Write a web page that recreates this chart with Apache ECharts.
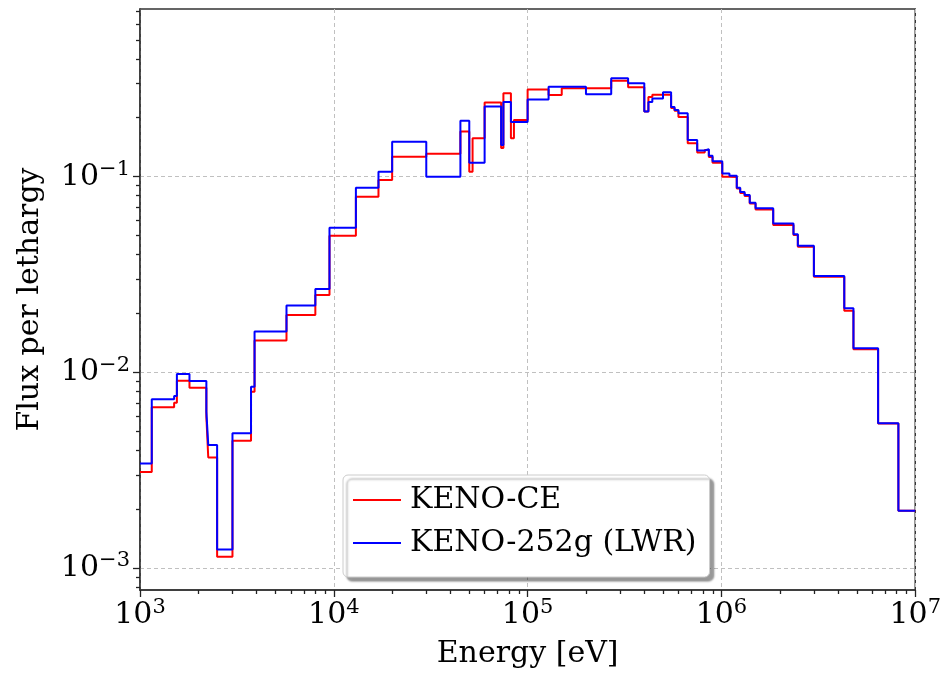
<!DOCTYPE html>
<html><head><meta charset="utf-8">
<script src="https://cdn.jsdelivr.net/npm/echarts@6/dist/echarts.min.js"></script>
<style>html,body{margin:0;padding:0;background:#fff}#c{width:944px;height:674px}</style>
</head><body><div id="c"></div>
<script>
// Group boundaries [eV] (left edges, last value = right edge of last group)
const groupEdges = [1000, 1150, 1500, 1550, 1800, 2200, 2250, 2500, 3000, 3740, 3900, 5700, 8030, 9500,
  13000, 17000, 20000, 30000, 45000, 50000, 52000, 60000, 73000, 75000, 82000, 85000, 100000, 128300,
  150000, 200000, 270000, 330000, 400000, 420000, 440000, 499520, 550000, 573000, 600000, 670000, 750000,
  820000, 861100, 900000, 1010000, 1100000, 1200000, 1250000, 1317000, 1400000, 1500000, 1850000,
  2354000, 2479000, 3000000, 4304000, 4800000, 6434000, 8187000, 10000000];

// Flux per lethargy, KENO-CE
const fluxCE = [0.00311, 0.00665, 0.00702, 0.00909, 0.00837, 0.00596, 0.00369, 0.00115, 0.00449, 0.00799,
  0.0146, 0.0197, 0.0249, 0.0500, 0.0790, 0.0962, 0.1265, 0.131, 0.170, 0.106, 0.157, 0.239, 0.140, 0.267,
  0.157, 0.195, 0.279, 0.261, 0.283, 0.283, 0.309, 0.286, 0.215, 0.255, 0.262, 0.262, 0.224, 0.217, 0.202,
  0.148, 0.133, 0.137, 0.126, 0.118, 0.100, 0.0996, 0.0871, 0.0826, 0.0797, 0.0730, 0.0680, 0.0567, 0.0504,
  0.0439, 0.0309, 0.0207, 0.01315, 0.00550, 0.00197];

// Flux per lethargy, KENO-252g (LWR)
const flux252 = [0.00344, 0.00731, 0.00760, 0.00984, 0.00906, 0.00632, 0.00427, 0.00125, 0.00490, 0.00847,
  0.0162, 0.0220, 0.0267, 0.0549, 0.0879, 0.106, 0.151, 0.100, 0.193, 0.118, 0.118, 0.228, 0.145, 0.241,
  0.190, 0.190, 0.248, 0.288, 0.288, 0.264, 0.318, 0.300, 0.215, 0.241, 0.251, 0.270, 0.227, 0.219, 0.211,
  0.154, 0.136, 0.138, 0.128, 0.120, 0.104, 0.101, 0.0879, 0.0836, 0.0807, 0.0737, 0.0690, 0.0577, 0.0508,
  0.0444, 0.0311, 0.0213, 0.0133, 0.00551, 0.00197];

const seriesNames = ['KENO-CE', 'KENO-252g (LWR)'];
const seriesColors = ['#ff0000', '#0000ff'];

const xRange = [1e3, 1e7];
const yRange = [7.77e-4, 0.718];
const yMajorTicks = [1e-3, 1e-2, 1e-1];

function minorTicks(lo, hi) {
  const out = [];
  for (let e = Math.floor(Math.log10(lo)); e <= Math.ceil(Math.log10(hi)); e++) {
    for (let m = 2; m <= 9; m++) {
      const v = m * Math.pow(10, e);
      if (v > lo * 1.0001 && v < hi * 0.9999) out.push(v);
    }
  }
  return out;
}
const xMinorTicks = minorTicks(xRange[0], xRange[1]);
const yMinorTicks = minorTicks(yRange[0], yRange[1]);

function stepData(vals) {
  const d = vals.map((v, i) => [groupEdges[i], v]);
  d.push([groupEdges[groupEdges.length - 1], vals[vals.length - 1]]);
  return d;
}

const FONT = 'DejaVu Serif';
const FS = 30;
function powLabel(v) {
  const e = Math.round(Math.log10(v));
  return '{b|10}{s|' + (e < 0 ? '\u2212' + (-e) : String(e)) + '}';
}
const richPow = {
  b: { fontFamily: FONT, fontSize: FS, color: '#000', lineHeight: 36 },
  s: { fontFamily: FONT, fontSize: 21, color: '#000', verticalAlign: 'top', lineHeight: 22 }
};

const gridRect = { left: 140, right: 28.5, top: 9, bottom: 84 };
const tickLine = { color: '#222', width: 1.3 };

const chart = echarts.init(document.getElementById('c'), null, { renderer: 'canvas' });
chart.setOption({
  animation: false,
  backgroundColor: '#fff',
  grid: [
    Object.assign({ show: true, borderColor: '#333', borderWidth: 1.5, containLabel: false }, gridRect),
    Object.assign({ show: false, containLabel: false }, gridRect)
  ],
  legend: {
    left: 343, top: 475, orient: 'vertical',
    icon: 'rect', itemWidth: 48, itemHeight: 2, itemGap: 9,
    padding: [8, 13, 17, 10],
    backgroundColor: '#fff', borderColor: '#cccccc', borderWidth: 1, borderRadius: 5,
    shadowColor: 'rgba(0,0,0,0.4)', shadowOffsetX: 4, shadowOffsetY: 4, shadowBlur: 2,
    textStyle: { fontFamily: FONT, fontSize: FS, color: '#000', lineHeight: 34, padding: [0, 0, 0, 4] },
    data: seriesNames
  },
  xAxis: [{
    type: 'log', gridIndex: 0, min: xRange[0], max: xRange[1], logBase: 10,
    name: 'Energy [eV]', nameLocation: 'middle', nameGap: 49,
    nameTextStyle: { fontFamily: FONT, fontSize: FS, color: '#000' },
    axisLine: { show: true, lineStyle: { color: '#333', width: 1.5 } },
    axisTick: { show: true, inside: false, length: 7, lineStyle: tickLine },
    axisLabel: { margin: 7, formatter: powLabel, rich: richPow },
    splitLine: { show: true, lineStyle: { color: '#c0c0c0', width: 1, type: [4, 3] } },
    minorTick: { show: false }
  }, {
    type: 'log', gridIndex: 1, min: xRange[0], max: xRange[1], logBase: 10, position: 'bottom',
    axisLine: { show: false },
    axisTick: { show: true, inside: false, length: 4, lineStyle: tickLine, customValues: xMinorTicks },
    axisLabel: { show: false },
    splitLine: { show: false }
  }],
  yAxis: [{
    type: 'log', gridIndex: 0, min: yRange[0], max: yRange[1], logBase: 10,
    name: 'Flux per lethargy', nameLocation: 'middle', nameGap: 95,
    nameTextStyle: { fontFamily: FONT, fontSize: FS, color: '#000' },
    axisLine: { show: true, lineStyle: { color: '#333', width: 1.5 } },
    axisTick: { show: true, inside: false, length: 7, lineStyle: tickLine, customValues: yMajorTicks },
    axisLabel: { margin: 10, formatter: powLabel, rich: richPow, customValues: yMajorTicks },
    splitLine: { show: true, lineStyle: { color: '#c0c0c0', width: 1, type: [4, 3] } }
  }, {
    type: 'log', gridIndex: 1, min: yRange[0], max: yRange[1], logBase: 10, position: 'left',
    axisLine: { show: false },
    axisTick: { show: true, inside: false, length: 4, lineStyle: tickLine, customValues: yMinorTicks },
    axisLabel: { show: false },
    splitLine: { show: false }
  }],
  series: [
    {
      name: seriesNames[0], type: 'line', xAxisIndex: 0, yAxisIndex: 0, step: 'end',
      showSymbol: false, symbol: 'none', data: stepData(fluxCE),
      color: seriesColors[0], lineStyle: { color: seriesColors[0], width: 2 }, z: 3
    },
    {
      name: seriesNames[1], type: 'line', xAxisIndex: 0, yAxisIndex: 0, step: 'end',
      showSymbol: false, symbol: 'none', data: stepData(flux252),
      color: seriesColors[1], lineStyle: { color: seriesColors[1], width: 2 }, z: 4
    }
  ]
});
</script>
</body></html>
